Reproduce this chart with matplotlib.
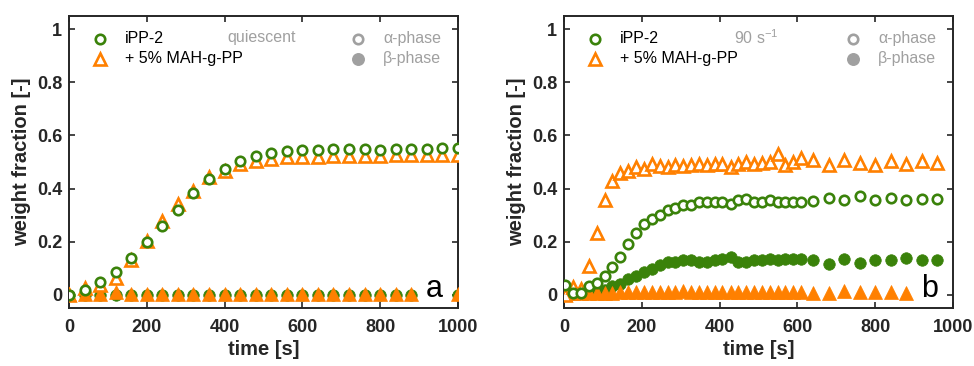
import matplotlib
matplotlib.use("Agg")
import matplotlib.pyplot as plt
from matplotlib.ticker import FormatStrFormatter

plt.rcParams['font.family'] = ['Liberation Sans', 'DejaVu Sans']
plt.rcParams['mathtext.default'] = 'regular'

GREEN = '#3a820a'
ORANGE = '#ff8000'
GRAY = '#a0a0a0'
DARK = '#262626'

# ---- panel a: quiescent ----
t_a_alpha = [0, 40, 80, 120, 160, 200, 240, 280, 320, 360, 400, 440, 480,
             520, 560, 600, 640, 680, 720, 760, 800, 840, 880, 920, 960, 1000]
ipp_a_alpha = [0.0, 0.016, 0.046, 0.085, 0.138, 0.198, 0.257, 0.320, 0.383,
               0.437, 0.473, 0.502, 0.523, 0.533, 0.542, 0.546, 0.546, 0.547,
               0.547, 0.547, 0.546, 0.549, 0.548, 0.549, 0.552, 0.553]
mah_a_alpha = [0.0, 0.025, 0.035, 0.063, 0.132, 0.201, 0.276, 0.341, 0.391,
               0.445, 0.467, 0.493, 0.505, 0.513, 0.517, 0.518, 0.518, 0.521,
               0.521, 0.521, 0.523, 0.527, 0.527, 0.527, 0.527, 0.527]
t_a_beta = [0, 40, 80, 120, 160, 200, 240, 280, 320, 360, 400, 440, 480,
            520, 560, 600, 640, 680, 720, 760, 800, 840, 880, 1000]
ipp_a_beta = [0.0, 0.0, 0.0, 0.0, 0.0, 0.0, 0.0, 0.0, 0.0, 0.0, 0.0, 0.0,
              0.0, 0.0, 0.0, 0.0, 0.0, 0.0, 0.0, 0.0, 0.0, 0.0, 0.0, 0.0]
mah_a_beta = [0.002, 0.003, 0.003, 0.012, 0.003, 0.003, 0.003, 0.003, 0.003,
              0.003, 0.003, 0.003, 0.003, 0.003, 0.003, 0.003, 0.003, 0.003,
              0.003, 0.003, 0.003, 0.003, 0.003, 0.003]

# ---- panel b: 90 s^-1 ----
t_b = [3, 24, 44, 64, 84, 104, 124, 145, 165, 185, 206, 226, 246, 266, 286,
       306, 327, 347, 367, 387, 407, 428, 448, 468, 488, 508, 529, 549, 569,
       589, 609, 640, 680, 720, 760, 800, 840, 880, 920, 960]
ipp_b_alpha = [0.035, 0.005, 0.005, 0.034, 0.044, 0.071, 0.104, 0.142, 0.192,
               0.232, 0.267, 0.287, 0.301, 0.320, 0.326, 0.336, 0.339, 0.348,
               0.349, 0.351, 0.348, 0.341, 0.355, 0.360, 0.351, 0.351, 0.355,
               0.351, 0.351, 0.351, 0.351,
               0.353, 0.364, 0.357, 0.370, 0.357, 0.364, 0.355, 0.361, 0.361]
mah_b_alpha = [0.0, 0.03, 0.02, 0.109, 0.232, 0.358, 0.430, 0.458, 0.467,
               0.481, 0.473, 0.492, 0.486, 0.481, 0.489, 0.486, 0.489, 0.493,
               0.489, 0.492, 0.493, 0.481, 0.492, 0.498, 0.493, 0.496, 0.498,
               0.531, 0.489, 0.498, 0.514,
               0.506, 0.489, 0.508, 0.496, 0.489, 0.502, 0.493, 0.502, 0.496]
ipp_b_beta = [0.0, 0.003, 0.005, 0.006, 0.013, 0.019, 0.031, 0.041, 0.059,
              0.071, 0.084, 0.097, 0.113, 0.122, 0.125, 0.129, 0.129, 0.125,
              0.125, 0.129, 0.134, 0.142, 0.122, 0.125, 0.129, 0.132, 0.134,
              0.132, 0.134, 0.134, 0.134,
              0.132, 0.117, 0.134, 0.119, 0.129, 0.129, 0.138, 0.129, 0.132]
t_b_mah_beta = t_b[:38]
mah_b_beta = [0.004, 0.006, 0.008, 0.008, 0.008, 0.008, 0.008, 0.009, 0.009,
              0.009, 0.009, 0.009, 0.009, 0.009, 0.010, 0.013, 0.010, 0.009,
              0.009, 0.010, 0.009, 0.009, 0.010, 0.009, 0.010, 0.009, 0.010,
              0.010, 0.009, 0.010, 0.009,
              0.008, 0.008, 0.013, 0.009, 0.009, 0.009, 0.008]

x_ticks = [0, 200, 400, 600, 800, 1000]
y_ticks = [0, 0.2, 0.4, 0.6, 0.8, 1]

fig = plt.figure(figsize=(9.74, 3.66), dpi=100)
ax_a = fig.add_axes([0.0708, 0.1585, 0.3994, 0.798])
ax_b = fig.add_axes([0.5791, 0.1585, 0.3994, 0.798])

MS_O = 6.8   # open circle
MS_TO = 8.6  # open triangle
MS_T = 9.6   # filled triangle
MS_F = 8.3   # filled circles
MEW = 1.9


def draw_series(ax, t_al, ipp_al, mah_al, t_ib, ipp_be, t_mb, mah_be):
    ax.plot(t_ib, ipp_be, 'o', ls='none', ms=MS_F, color=GREEN, mec=GREEN, mew=0.5, zorder=2)
    ax.plot(t_mb, mah_be, '^', ls='none', ms=MS_T, color=ORANGE, mec=ORANGE, mew=0.5, zorder=3)
    ax.plot(t_al, mah_al, '^', ls='none', ms=MS_TO, mfc='white', mec=ORANGE, mew=MEW, zorder=4)
    ax.plot(t_al, ipp_al, 'o', ls='none', ms=MS_O, mfc='white', mec=GREEN, mew=MEW, zorder=5)


draw_series(ax_a, t_a_alpha, ipp_a_alpha, mah_a_alpha,
            t_a_beta, ipp_a_beta, t_a_beta, mah_a_beta)
draw_series(ax_b, t_b, ipp_b_alpha, mah_b_alpha,
            t_b, ipp_b_beta, t_b_mah_beta, mah_b_beta)


def style_axes(ax, cond, letter):
    ax.set_xlim(0, 1000)
    ax.set_ylim(-0.05, 1.05)
    ax.set_xticks(x_ticks)
    ax.set_yticks(y_ticks)
    ax.yaxis.set_major_formatter(FormatStrFormatter('%g'))
    ax.tick_params(direction='in', top=True, right=True, length=4, width=1.2,
                   colors=DARK, labelsize=13)
    ax.tick_params(axis='x', pad=8)
    ax.tick_params(axis='y', pad=5)
    for lab in ax.get_xticklabels() + ax.get_yticklabels():
        lab.set_fontweight('bold')
    for sp in ax.spines.values():
        sp.set_linewidth(1.4)
        sp.set_color(DARK)
    ax.set_xlabel('time [s]', fontsize=14.5, fontweight='bold', color=DARK, labelpad=3)
    ax.set_ylabel('weight fraction [-]', fontsize=14.5, fontweight='bold', color=DARK, labelpad=4)

    # legend drawn by hand
    tr = ax.transAxes
    ax.plot([0.080], [0.921], 'o', ms=MS_O, mfc='white', mec=GREEN, mew=MEW,
            transform=tr, clip_on=False)
    ax.plot([0.080], [0.853], '^', ms=MS_TO, mfc='white', mec=ORANGE, mew=MEW,
            transform=tr, clip_on=False)
    ax.text(0.144, 0.921, 'iPP-2', transform=tr, fontsize=11.5, va='center', ha='left')
    ax.text(0.144, 0.853, '+ 5% MAH-g-PP', transform=tr, fontsize=11.5, va='center', ha='left')
    ax.text(0.495, 0.925, cond, transform=tr, fontsize=11.5, va='center', ha='center', color=GRAY)
    ax.plot([0.743], [0.921], 'o', ms=MS_O, mfc='white', mec=GRAY, mew=MEW,
            transform=tr, clip_on=False)
    ax.plot([0.743], [0.853], 'o', ms=MS_F, color=GRAY, transform=tr, clip_on=False)
    ax.text(0.807, 0.921, 'α-phase', transform=tr, fontsize=11.5, va='center', ha='left', color=GRAY)
    ax.text(0.807, 0.853, 'β-phase', transform=tr, fontsize=11.5, va='center', ha='left', color=GRAY)
    ax.text(0.94, 0.038, letter, transform=tr, fontsize=22, va='baseline', ha='center')


style_axes(ax_a, 'quiescent', 'a')
style_axes(ax_b, '90 s$^{-1}$', 'b')

fig.savefig('out.png', dpi=100)
